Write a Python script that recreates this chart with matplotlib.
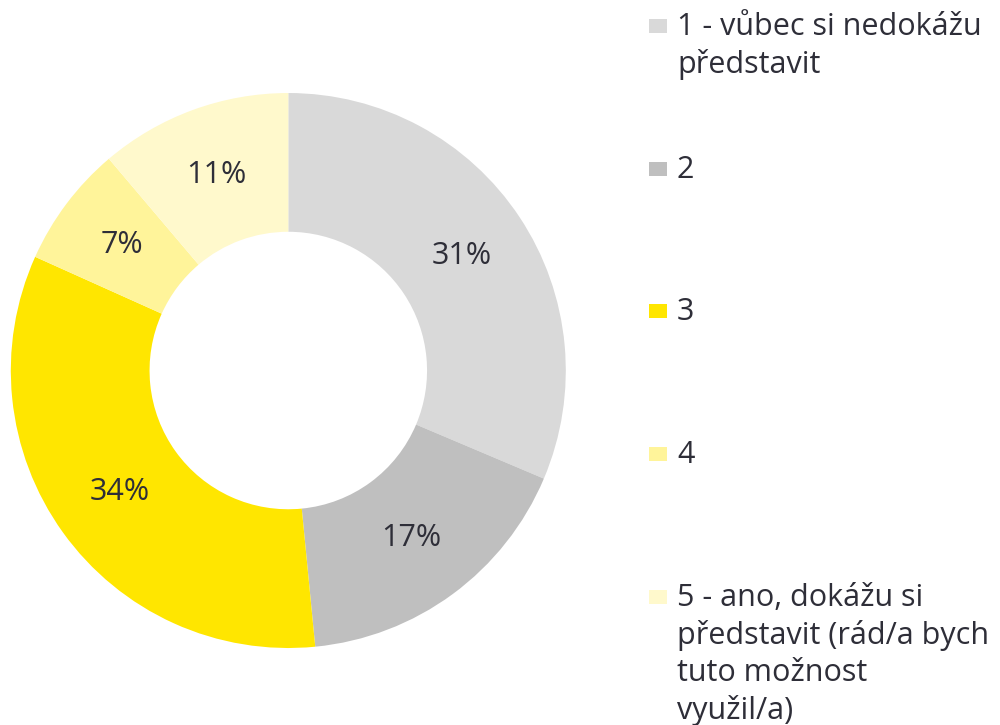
import matplotlib
matplotlib.use("Agg")
import matplotlib.pyplot as plt
from matplotlib.patches import Rectangle

plt.rcParams['font.family'] = ['Open Sans', 'DejaVu Sans']

labels = ["1 - vůbec si nedokážu\npředstavit",
          "2",
          "3",
          "4",
          "5 - ano, dokážu si\npředstavit (rád/a bych\ntuto možnost\nvyužil/a)"]
# slice sizes as measured off the ring, and the printed labels
values = [31.4, 17.1, 33.3, 7.1, 11.2]
pct_labels = ["31%", "17%", "34%", "7%", "11%"]
colors = ["#d9d9d9", "#bfbfbf", "#ffe600", "#fff49a", "#fff9cc"]
text_col = "#2e2e38"

fig = plt.figure(figsize=(10, 7.25), dpi=100)
ax = fig.add_axes([0.0108, 0.1062, 0.555, 0.7655])

wedges, texts, autotexts = ax.pie(values, colors=colors, startangle=90, counterclock=False,
                                  radius=1, autopct="%d%%", pctdistance=0.75,
                                  wedgeprops=dict(width=0.5, linewidth=0),
                                  textprops=dict(color=text_col, fontsize=22))
for t, s in zip(autotexts, pct_labels):
    t.set_text(s)
ax.set_xlim(-1, 1)
ax.set_ylim(-1, 1)
ax.set_aspect("equal")
ax.axis("off")

# legend drawn by hand: constant pitch between entries
base0 = 36
pitch = 142.7
for i, (lab, col) in enumerate(zip(labels, colors)):
    yb = base0 + i * pitch
    fig.add_artist(Rectangle((649 / 1000, 1 - (yb - 3) / 725), 18 / 1000, 14 / 725,
                             transform=fig.transFigure, facecolor=col, edgecolor="none"))
    fig.text(677 / 1000, 1 - (yb - 24) / 725, lab, fontsize=22, color=text_col,
             va="top", ha="left", linespacing=1.3)

fig.savefig("out.png", dpi=100)
